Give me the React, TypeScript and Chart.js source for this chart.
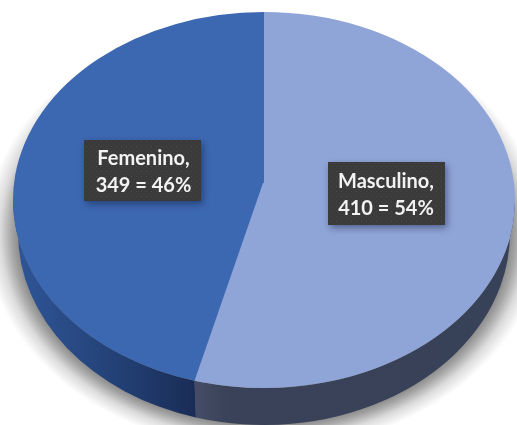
import React, { useEffect, useRef } from "react";
import { Chart, registerables } from "chart.js";

Chart.register(...registerables);

const categories = ["Masculino", "Femenino"];
const counts = [410, 349];
const percents = [54, 46];
const faceColors = ["#8FA4D7", "#3C67B1"];
const sideStops = [
  ["#454C66", "#3A4259", "#374158"],
  ["#2F5597", "#234176", "#1A2C56"],
];
const labelBoxes = [
  { x: 328, y: 162, w: 117, h: 63 },
  { x: 84, y: 140, w: 117, h: 61 },
];

// Geometry of the tilted disc
const FACE = { cx: 264, cy: 200, rx: 251, ry: 188 };
const BASE = { cx: 264, cy: 233, rx: 246, ry: 192 };
const APEX = { x: 263, y: 183 };
const PERSPECTIVE_SKEW = 0.028; // radians the front seam appears displaced by
const SHADOW_SPREAD = 32;

const clampFront = (a: number, b: number) => {
  const norm = (v: number) => (v < -Math.PI / 2 ? v + 2 * Math.PI : v);
  return [Math.max(norm(a), 0), Math.min(norm(b), Math.PI)];
};

const discPlugin = {
  id: "disc",
  beforeDatasetsDraw(chart: any) {
    const { ctx } = chart;
    const arcs = chart.getDatasetMeta(0).data;
    const first = arcs[0];

    // soft drop shadow: an elliptical radial falloff around the base
    ctx.save();
    ctx.translate(BASE.cx, BASE.cy);
    ctx.scale(1, BASE.ry / BASE.rx);
    const inner = BASE.rx - 4;
    const outer = BASE.rx + SHADOW_SPREAD;
    const halo = ctx.createRadialGradient(0, 0, inner, 0, 0, outer);
    halo.addColorStop(0, "rgba(0,0,0,0.5)");
    halo.addColorStop(0.3, "rgba(0,0,0,0.34)");
    halo.addColorStop(0.6, "rgba(0,0,0,0.14)");
    halo.addColorStop(1, "rgba(0,0,0,0)");
    ctx.fillStyle = halo;
    ctx.beginPath();
    ctx.arc(0, 0, outer, 0, Math.PI * 2);
    ctx.fill();
    ctx.restore();

    // side wall
    arcs.forEach((arc: any, i: number) => {
      const { startAngle, endAngle } = arc.getProps(["startAngle", "endAngle"]);
      const [a0, b0] = clampFront(startAngle, endAngle);
      const a = i === 1 ? a0 + PERSPECTIVE_SKEW : a0;
      const b = i === 0 ? b0 + PERSPECTIVE_SKEW : b0;
      if (b <= a) return;
      const x0 = BASE.cx + BASE.rx * Math.cos(a);
      const x1 = BASE.cx + BASE.rx * Math.cos(b);
      const g = ctx.createLinearGradient(x1, 0, x0, 0);
      const stops = sideStops[i];
      if (i === 0) {
        g.addColorStop(0, stops[0]);
        g.addColorStop(0.1, stops[1]);
        g.addColorStop(1, stops[2]);
      } else {
        g.addColorStop(0, stops[0]);
        g.addColorStop(0.55, stops[1]);
        g.addColorStop(1, stops[2]);
      }
      ctx.fillStyle = g;
      ctx.beginPath();
      ctx.ellipse(FACE.cx, FACE.cy, FACE.rx, FACE.ry, 0, a, b);
      ctx.ellipse(BASE.cx, BASE.cy, BASE.rx, BASE.ry, 0, b, a, true);
      ctx.closePath();
      ctx.fill();
    });

    // map the library's circular pie onto the face ellipse
    const { x, y, outerRadius } = first.getProps(["x", "y", "outerRadius"]);
    ctx.save();
    ctx.translate(FACE.cx, FACE.cy);
    ctx.scale(FACE.rx / outerRadius, FACE.ry / outerRadius);
    ctx.translate(-x, -y);
  },
  afterDatasetsDraw(chart: any) {
    const { ctx } = chart;
    ctx.restore();
    const arcs = chart.getDatasetMeta(0).data;
    const { endAngle } = arcs[0].getProps(["endAngle"]);

    // perspective: slices meet slightly above the ellipse centre
    ctx.save();
    ctx.fillStyle = faceColors[0];
    ctx.beginPath();
    ctx.ellipse(FACE.cx, FACE.cy, FACE.rx, FACE.ry, 0, endAngle - 0.01, endAngle + PERSPECTIVE_SKEW);
    ctx.lineTo(APEX.x, APEX.y);
    ctx.lineTo(FACE.cx + 1, APEX.y);
    ctx.lineTo(FACE.cx + 1, FACE.cy + 2);
    ctx.closePath();
    ctx.fill();
    ctx.restore();

    // labels
    const tile = document.createElement("canvas");
    tile.width = 5;
    tile.height = 5;
    const t = tile.getContext("2d")!;
    t.fillStyle = "#3A3A3A";
    t.fillRect(0, 0, 5, 5);
    t.fillStyle = "#4A4A4A";
    t.fillRect(1, 1, 1, 1);
    t.fillRect(3.5, 3.5, 1, 1);
    const pattern = ctx.createPattern(tile, "repeat");

    labelBoxes.forEach((box, i) => {
      ctx.save();
      ctx.shadowColor = "rgba(10,20,50,0.45)";
      ctx.shadowBlur = 7;
      ctx.shadowOffsetX = 2;
      ctx.shadowOffsetY = 3;
      ctx.fillStyle = pattern;
      ctx.fillRect(box.x, box.y, box.w, box.h);
      ctx.restore();

      ctx.save();
      ctx.fillStyle = "#F2F2F2";
      ctx.font = "bold 20px Lato, 'Open Sans', sans-serif";
      ctx.textAlign = "center";
      ctx.textBaseline = "middle";
      const mx = box.x + box.w / 2 + (i === 0 ? -0.5 : 1);
      const my = box.y + box.h / 2;
      ctx.fillText(`${categories[i]},`, mx, my - 11.5);
      ctx.fillText(`${counts[i]} = ${percents[i]}%`, mx, my + 15.5);
      ctx.restore();
    });
  },
};

export default function App() {
  const ref = useRef<HTMLCanvasElement | null>(null);

  useEffect(() => {
    document.body.style.margin = "0";
    document.body.style.background = "#fff";
    const chart = new Chart(ref.current!, {
      type: "pie",
      data: {
        labels: categories,
        datasets: [
          {
            data: counts,
            backgroundColor: faceColors,
            borderWidth: 0,
            clip: false,
          } as any,
        ],
      },
      options: {
        animation: false,
        responsive: false,
        layout: { padding: 0 },
        plugins: { legend: { display: false }, tooltip: { enabled: false } },
      },
      plugins: [discPlugin],
    });
    return () => chart.destroy();
  }, []);

  return (
    <canvas
      ref={ref}
      width={517}
      height={425}
      style={{ display: "block", width: 517, height: 425, filter: "blur(0.45px)" }}
    />
  );
}
